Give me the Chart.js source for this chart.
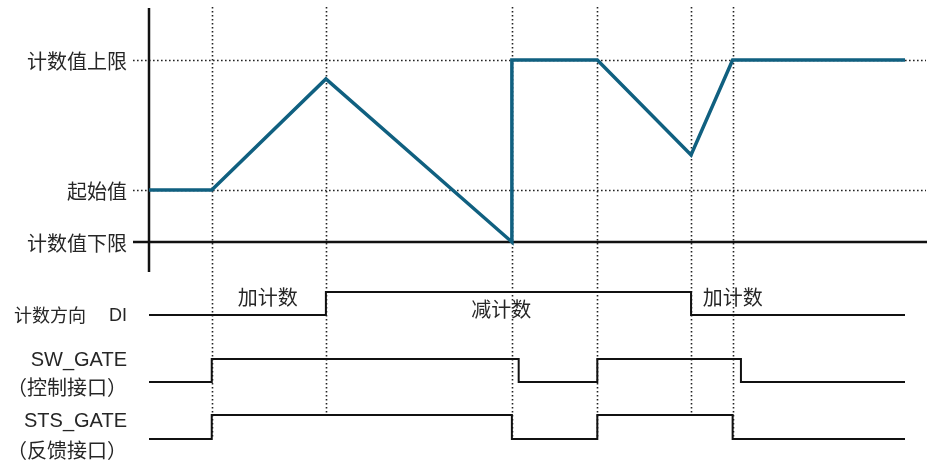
<!DOCTYPE html>
<html>
<head>
<meta charset="utf-8">
<script src="https://cdn.jsdelivr.net/npm/chart.js@4.4.1/dist/chart.umd.min.js"></script>
<style>
  html, body { margin: 0; padding: 0; background: #fff; }
  #wrap { width: 930px; height: 462px; position: relative; }
</style>
</head>
<body>
<div id="wrap"><canvas id="c"></canvas></div>
<script>
// Time axis runs 0..100; counter value runs from lower limit (0) to upper limit (100).
const LOWER_LIMIT = 0;
const UPPER_LIMIT = 100;
const START_VALUE = 28.6;

// Counter value trace
const counterTime  = [0, 8.3, 23.4, 48.0, 48.0, 59.3, 71.7, 77.2, 100];
const counterValue = [START_VALUE, START_VALUE, 89.6, LOWER_LIMIT, UPPER_LIMIT, UPPER_LIMIT, 47.8, UPPER_LIMIT, UPPER_LIMIT];

// Digital signals: time of each change and the level (0/1) from then on
const diTime   = [0, 23.4, 71.7, 100];
const diLevel  = [0, 1, 0, 0];
const swTime   = [0, 8.3, 48.9, 59.3, 78.3, 100];
const swLevel  = [0, 1, 0, 1, 0, 0];
const stsTime  = [0, 8.3, 48.0, 59.3, 77.2, 100];
const stsLevel = [0, 1, 0, 1, 0, 0];

// Event markers (dotted verticals)
const eventTimes = [8.3, 23.4, 48.0, 59.3, 71.7, 77.2];

// Axis labels
const valueLabels = [
  { text: '计数值上限', value: UPPER_LIMIT },
  { text: '起始值', value: START_VALUE },
  { text: '计数值下限', value: LOWER_LIMIT }
];
// Direction annotations, placed at a time and a height within the DI lane
const dirLabels = [
  { text: '加计数', t: 15.7, rise: 9.9 },
  { text: '减计数', t: 46.6, rise: 3.3 },
  { text: '加计数', t: 77.2, rise: 9.9 }
];

// Lane placement for the signal traces (in y-axis units)
const lanes = {
  di:  { base: -40.1, swing: 12.6 },
  sw:  { base: -76.9, swing: 12.6 },
  sts: { base: -108.2, swing: 13.1 }
};

const TRACE = '#106080';
const INK = '#111';
const TEXT = '#262626';
const CJK = "'Noto Sans CJK SC', 'Noto Sans', sans-serif";
const LAT = "'Liberation Sans', Arial, sans-serif";

function signalPoints(times, levels, lane) {
  return times.map((t, i) => ({ x: t, y: lane.base + levels[i] * lane.swing }));
}
function levelAt(times, levels, t) {
  let lv = levels[0];
  for (let i = 0; i < times.length; i++) if (times[i] <= t) lv = levels[i];
  return lv;
}

const guides = {
  id: 'guides',
  beforeDatasetsDraw(chart) {
    const { ctx } = chart;
    const x = chart.scales.x, y = chart.scales.y;
    ctx.save();
    // dotted horizontal reference lines
    ctx.strokeStyle = '#222';
    ctx.lineWidth = 1.6;
    ctx.setLineDash([1.6, 2.4]);
    [UPPER_LIMIT, START_VALUE].forEach(v => {
      const py = Math.round(y.getPixelForValue(v)) + 0.5;
      ctx.beginPath();
      ctx.moveTo(133, py);
      ctx.lineTo(926, py);
      ctx.stroke();
    });
    // dotted event markers, ending on the STS_GATE trace
    eventTimes.forEach(t => {
      const px = Math.round(x.getPixelForValue(t)) + 0.5;
      const lv = Math.min(levelAt(stsTime, stsLevel, t + 0.01), levelAt(stsTime, stsLevel, t - 0.01));
      const endY = y.getPixelForValue(lanes.sts.base + lv * lanes.sts.swing);
      ctx.beginPath();
      ctx.moveTo(px, 7);
      ctx.lineTo(px, endY);
      ctx.stroke();
    });
    ctx.setLineDash([]);
    // axes
    ctx.strokeStyle = INK;
    ctx.lineWidth = 2.5;
    const x0 = x.getPixelForValue(0);
    const y0 = y.getPixelForValue(LOWER_LIMIT);
    ctx.beginPath();
    ctx.moveTo(x0, 8);
    ctx.lineTo(x0, 272);
    ctx.stroke();
    ctx.beginPath();
    ctx.moveTo(133, y0);
    ctx.lineTo(927, y0);
    ctx.stroke();
    ctx.restore();
  },
  afterDraw(chart) {
    const { ctx } = chart;
    const x = chart.scales.x, y = chart.scales.y;
    ctx.save();
    ctx.fillStyle = TEXT;
    ctx.textBaseline = 'middle';
    ctx.textAlign = 'right';
    ctx.font = '20px ' + CJK;
    valueLabels.forEach(l => {
      ctx.fillText(l.text, 127, y.getPixelForValue(l.value) + 1);
    });
    // signal names
    const diY = y.getPixelForValue(lanes.di.base);
    ctx.font = '18px ' + LAT;
    ctx.fillText('DI', 127, diY + 1);
    ctx.font = '18px ' + CJK;
    ctx.fillText('计数方向', 86, diY);
    const swY = y.getPixelForValue(lanes.sw.base);
    ctx.font = '20px ' + LAT;
    ctx.fillText('SW_GATE', 127, swY - 21);
    ctx.font = '20px ' + CJK;
    ctx.fillText('（控制接口）', 127, swY + 5);
    const stsY = y.getPixelForValue(lanes.sts.base);
    ctx.font = '20px ' + LAT;
    ctx.fillText('STS_GATE', 127, stsY - 17);
    ctx.font = '20px ' + CJK;
    ctx.fillText('（反馈接口）', 127, stsY + 11);
    // direction annotations
    ctx.textAlign = 'center';
    ctx.font = '20px ' + CJK;
    dirLabels.forEach(l => {
      ctx.fillText(l.text, x.getPixelForValue(l.t), y.getPixelForValue(lanes.di.base + l.rise));
    });
    ctx.restore();
  }
};

new Chart(document.getElementById('c'), {
  type: 'line',
  data: {
    datasets: [
      {
        label: '计数值',
        data: counterTime.map((t, i) => ({ x: t, y: counterValue[i] })),
        borderColor: TRACE, borderWidth: 3.5, pointRadius: 0, tension: 0,
        borderJoinStyle: 'miter', clip: false
      },
      {
        label: '计数方向 DI',
        data: signalPoints(diTime, diLevel, lanes.di),
        borderColor: INK, borderWidth: 2, pointRadius: 0, stepped: 'before', clip: false
      },
      {
        label: 'SW_GATE',
        data: signalPoints(swTime, swLevel, lanes.sw),
        borderColor: INK, borderWidth: 2, pointRadius: 0, stepped: 'before', clip: false
      },
      {
        label: 'STS_GATE',
        data: signalPoints(stsTime, stsLevel, lanes.sts),
        borderColor: INK, borderWidth: 2, pointRadius: 0, stepped: 'before', clip: false
      }
    ]
  },
  options: {
    responsive: true,
    maintainAspectRatio: false,
    animation: false,
    layout: { padding: { left: 149, right: 25, top: 5.4, bottom: 19.8 } },
    scales: {
      x: { type: 'linear', min: 0, max: 100, display: false },
      y: { type: 'linear', min: -110, max: 130, display: false }
    },
    plugins: { legend: { display: false }, tooltip: { enabled: false } }
  },
  plugins: [guides]
});
</script>
</body>
</html>
